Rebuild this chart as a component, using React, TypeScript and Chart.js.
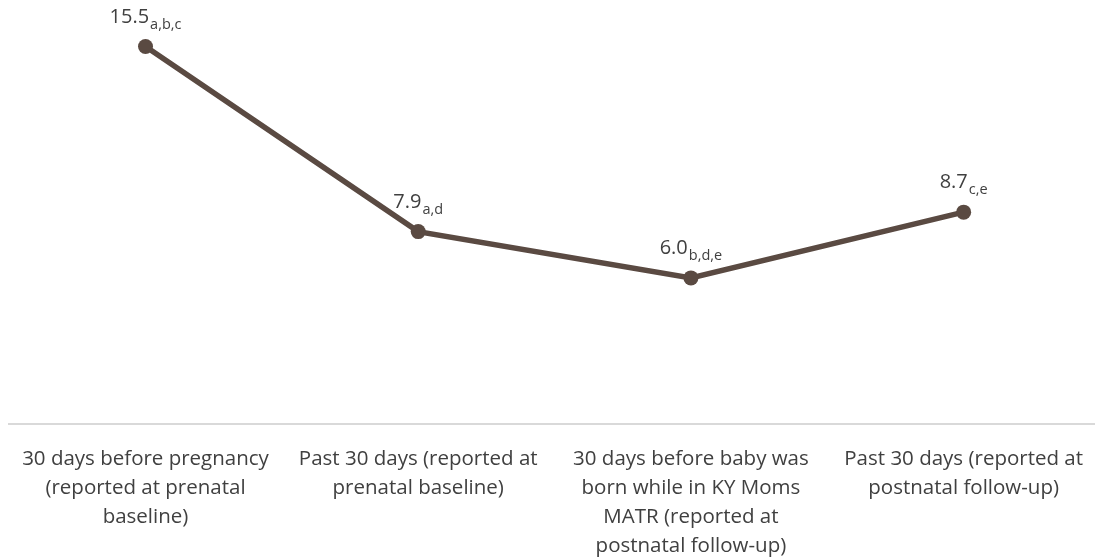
import React, { useEffect, useRef } from "react";
import { Chart, registerables } from "chart.js";

Chart.register(...registerables);

const categories: string[][] = [
  ["30 days before pregnancy", "(reported at prenatal", "baseline)"],
  ["Past 30 days (reported at", "prenatal baseline)"],
  ["30 days before baby was", "born while in KY Moms", "MATR (reported at", "postnatal follow-up)"],
  ["Past 30 days (reported at", "postnatal follow-up)"],
];
const values: number[] = [15.5, 7.9, 6.0, 8.7];
const valueLabels: string[] = ["15.5", "7.9", "6.0", "8.7"];
const subscripts: string[] = ["a,b,c", "a,d", "b,d,e", "c,e"];

const FONT = "'Open Sans', 'Noto Sans', sans-serif";
const LINE_COLOR = "#5a4a42";
const TEXT_COLOR = "#404040";
const CANVAS_W = 1110;

const labelPlugin = {
  id: "subLabels",
  afterDatasetsDraw(chart: any) {
    const ctx = chart.ctx;
    const meta = chart.getDatasetMeta(0);
    ctx.save();
    ctx.fillStyle = TEXT_COLOR;
    ctx.textBaseline = "alphabetic";
    ctx.textAlign = "left";
    meta.data.forEach((pt: any, i: number) => {
      const main = valueLabels[i];
      const sub = subscripts[i];
      ctx.font = `20px ${FONT}`;
      const wMain = ctx.measureText(main).width;
      ctx.font = `14.5px ${FONT}`;
      const wSub = ctx.measureText(sub).width;
      const total = wMain + wSub + 1;
      const x0 = pt.x - total / 2;
      const base = pt.y - 24;
      ctx.font = `20px ${FONT}`;
      ctx.fillText(main, x0, base);
      ctx.font = `14.5px ${FONT}`;
      ctx.fillText(sub, x0 + wMain + 1, base + 6);
    });
    ctx.restore();
  },
};

export default function App() {
  const ref = useRef<HTMLCanvasElement | null>(null);
  useEffect(() => {
    if (!ref.current) return;
    const chart = new Chart(ref.current, {
      type: "line",
      data: {
        labels: categories,
        datasets: [
          {
            data: values,
            borderColor: LINE_COLOR,
            backgroundColor: LINE_COLOR,
            borderWidth: 5.5,
            pointRadius: 7.5,
            pointBackgroundColor: LINE_COLOR,
            pointBorderColor: LINE_COLOR,
            pointBorderWidth: 0,
            tension: 0,
          },
        ],
      },
      options: {
        responsive: false,
        animation: false,
        layout: { padding: { top: 10, left: 9, right: 10, bottom: 0 } },
        plugins: { legend: { display: false }, tooltip: { enabled: false } },
        scales: {
          x: {
            offset: true,
            grid: { display: false, drawTicks: false },
            border: { display: true, color: "#d9d9d9", width: 2 },
            ticks: {
              color: TEXT_COLOR,
              font: { family: FONT, size: 20.5, lineHeight: 1.415 },
              padding: 21,
              maxRotation: 0,
              autoSkip: false,
            },
            afterFit: (scale: any) => {
              scale.height = 133;
            },
          },
          y: {
            display: false,
            min: 0,
            max: 17,
          },
        },
      },
      plugins: [labelPlugin],
    });
    return () => chart.destroy();
  }, []);
  return (
    <div style={{ position: "fixed", left: 0, top: 0, width: 1095, height: 557, overflow: "hidden", background: "#fff" }}>
      <canvas ref={ref} width={CANVAS_W} height={557} style={{ width: CANVAS_W, height: 557, display: "block" }} />
    </div>
  );
}
